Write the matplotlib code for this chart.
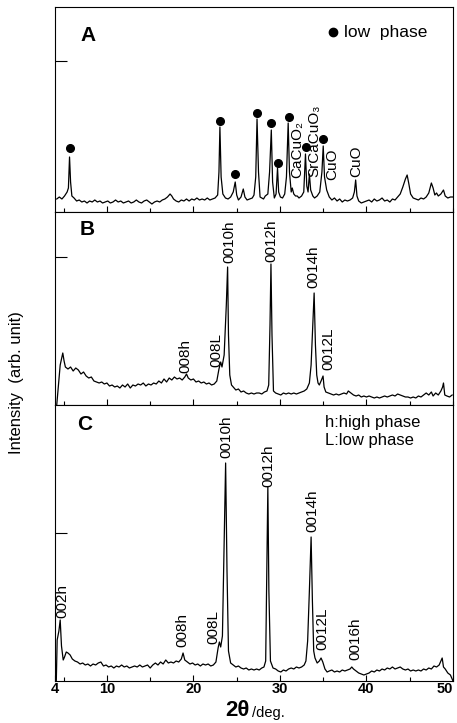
import numpy as np
import matplotlib
matplotlib.use("Agg")
import matplotlib.pyplot as plt  # noqa: E402
from matplotlib.ticker import MultipleLocator  # noqa: E402

plt.rcParams["font.family"] = ["Liberation Sans", "DejaVu Sans"]

# --- panel A: mixed (low phase + CaCuO2, SrCaCuO3, CuO) ---
tt_a = [4.2, 4.5, 4.8, 5.1, 5.4, 5.55, 5.68, 5.8, 5.95, 6.2, 6.5, 6.8, 7.1, 7.4, 7.7, 8.0,
        8.3, 8.6, 8.9, 9.2, 9.5, 9.8, 10.1, 10.4, 10.7, 11.0, 11.3, 11.6, 11.9, 12.2, 12.5,
        12.8, 13.1, 13.4, 13.7, 14.0, 14.3, 14.6, 14.9, 15.2, 15.5, 15.8, 16.1, 16.4, 16.7,
        17.0, 17.3, 17.5, 17.7, 18.0, 18.3, 18.6, 18.9, 19.2, 19.5, 19.8, 20.1, 20.4, 20.7,
        21.0, 21.3, 21.6, 21.9, 22.2, 22.5, 22.8, 22.95, 23.06, 23.2, 23.4, 23.7, 24.0, 24.3,
        24.6, 24.83, 25.0, 25.2, 25.5, 25.76, 25.95, 26.2, 26.5, 26.8, 27.0, 27.2, 27.35,
        27.52, 27.7, 27.9, 28.1, 28.3, 28.6, 28.8, 29.0, 29.15, 29.35, 29.55, 29.72, 29.85,
        30.05, 30.3, 30.55, 30.75, 30.95, 31.1, 31.3, 31.42, 31.6, 31.8, 32.0, 32.2, 32.5,
        32.75, 32.95, 33.1, 33.25, 33.4, 33.55, 33.8, 34.0, 34.3, 34.6, 34.85, 35.0, 35.15,
        35.4, 35.7, 36.0, 36.3, 36.6, 36.9, 37.2, 37.5, 37.8, 38.1, 38.4, 38.6, 38.75, 38.9,
        39.1, 39.4, 39.7, 40.0, 40.3, 40.6, 40.9, 41.2, 41.5, 41.8, 42.1, 42.4, 42.7, 43.0,
        43.3, 43.6, 43.9, 44.2, 44.5, 44.7, 44.9, 45.1, 45.4, 45.7, 46.0, 46.3, 46.6, 46.9,
        47.2, 47.5, 47.7, 47.9, 48.1, 48.3, 48.6, 48.9, 49.1, 49.4, 49.7, 50.0]
int_a = [13, 15, 13, 16, 20, 24, 55, 30, 16, 14, 11, 12, 10, 11, 9, 11,
         10, 12, 10, 11, 9, 10, 11, 9, 10, 12, 10, 11, 9, 10, 11,
         9, 10, 12, 10, 9, 11, 12, 10, 8, 10, 11, 10, 12, 13,
         15, 18, 16, 13, 11, 10, 12, 11, 13, 11, 13, 12, 14, 12,
         13, 12, 14, 12, 13, 14, 17, 40, 85, 35, 18, 14, 13, 15,
         20, 30, 17, 12, 15, 23, 15, 12, 13, 14, 17, 35, 93,
         40, 15, 14, 13, 16, 18, 40, 82, 30, 14, 18, 44, 20,
         15, 14, 18, 35, 89, 40, 20, 24, 18, 16, 16, 14, 16,
         20, 58, 26, 20, 38, 22, 16, 14, 16, 20, 40, 66, 35,
         22, 15, 12, 14, 11, 13, 10, 12, 11, 12, 14, 20, 32, 16,
         11, 9, 10, 11, 12, 10, 13, 11, 12, 14, 11, 12, 10, 13,
         12, 15, 18, 25, 33, 37, 28, 18, 14, 13, 12, 14, 13, 15,
         19, 29, 24, 17, 19, 16, 18, 22, 16, 14, 15, 15]
# low-phase markers (peak position, marker height)
dot_tt = [5.68, 23.02, 24.83, 27.3, 29.0, 29.75, 31.0, 33.0, 34.97]
dot_int = [64, 91, 38, 99, 89, 49, 95, 65, 73]
# phase labels in panel A: (2θ, bottom of text, text)
lab_a_tt = [32.0, 33.95, 36.05, 38.83]
lab_a_int = [34, 35, 32, 35]
lab_a_txt = ["CaCuO₂", "SrCaCuO₃", "CuO", "CuO"]

# --- panel B ---
tt_b = [4.2, 4.4, 4.6, 4.9, 5.05, 5.2, 5.5, 5.8, 6.1, 6.4, 6.7, 7.0, 7.3, 7.6, 7.9, 8.2,
        8.5, 8.8, 9.1, 9.4, 9.7, 10.0, 10.3, 10.6, 10.9, 11.2, 11.5, 11.8, 12.1, 12.4, 12.7,
        13.0, 13.3, 13.6, 13.9, 14.2, 14.5, 14.8, 15.1, 15.4, 15.7, 16.0, 16.3, 16.6, 16.9,
        17.2, 17.5, 17.8, 18.1, 18.4, 18.7, 19.0, 19.2, 19.4, 19.7, 20.0, 20.3, 20.6, 20.9,
        21.2, 21.5, 21.8, 22.1, 22.4, 22.7, 22.95, 23.15, 23.3, 23.55, 23.8, 23.95, 24.05,
        24.2, 24.4, 24.6, 24.9, 25.2, 25.5, 25.8, 26.1, 26.4, 26.7, 27.0, 27.3, 27.6, 27.9,
        28.2, 28.5, 28.7, 28.85, 28.96, 29.08, 29.25, 29.5, 29.8, 30.1, 30.4, 30.7, 31.0,
        31.3, 31.6, 31.9, 32.2, 32.5, 32.8, 33.1, 33.4, 33.6, 33.8, 33.95, 34.1, 34.25,
        34.4, 34.55, 34.75, 34.98, 35.1, 35.3, 35.6, 35.9, 36.2, 36.5, 36.8, 37.1, 37.4,
        37.7, 37.9, 38.2, 38.5, 38.8, 39.1, 39.4, 39.7, 40.0, 40.3, 40.6, 40.9, 41.2, 41.5,
        41.8, 42.1, 42.4, 42.7, 43.0, 43.3, 43.6, 43.9, 44.2, 44.5, 44.8, 45.1, 45.4, 45.7,
        46.0, 46.3, 46.6, 46.9, 47.2, 47.5, 47.7, 48.0, 48.3, 48.6, 48.8, 48.9, 49.05, 49.3,
        49.6, 49.9]
int_b = [0, 20, 40, 52, 44, 38, 36, 38, 34, 37, 35, 31, 33, 29, 27, 28,
         24, 23, 22, 23, 21, 22, 19, 20, 18, 19, 17, 20, 18, 21, 17,
         20, 19, 21, 20, 22, 19, 21, 20, 22, 21, 24, 22, 26, 23,
         27, 25, 28, 26, 27, 25, 28, 31, 27, 25, 26, 23, 24, 22,
         23, 21, 22, 20, 21, 24, 36, 43, 38, 50, 100, 138, 70,
         30, 20, 18, 15, 16, 13, 14, 12, 11, 12, 11, 12, 12, 11,
         13, 14, 20, 80, 141, 70, 14, 12, 11, 10, 12, 11, 12,
         11, 12, 11, 12, 13, 14, 16, 22, 40, 80, 112, 60, 30,
         22, 20, 24, 29, 18, 13, 12, 11, 10, 11, 10, 11, 12,
         11, 14, 12, 10, 9, 10, 8, 9, 8, 9, 8, 7, 8, 7,
         8, 9, 8, 9, 10, 9, 11, 10, 9, 8, 8, 7, 8, 7,
         9, 8, 10, 12, 10, 13, 9, 12, 10, 14, 18, 22, 10, 9,
         8, 10]
lab_b_tt = [19.07, 22.64, 24.14, 29.0, 33.85, 35.58]
lab_b_int = [32, 38, 142, 143, 117, 35]
lab_b_txt = ["008h", "008L", "0010h", "0012h", "0014h", "0012L"]

# --- panel C ---
tt_c = [4.15, 4.25, 4.45, 4.6, 4.75, 4.95, 5.1, 5.3, 5.5, 5.75, 6.0, 6.3, 6.6, 6.9, 7.2,
        7.5, 7.8, 8.1, 8.4, 8.7, 9.0, 9.3, 9.6, 9.9, 10.2, 10.5, 10.8, 11.1, 11.4, 11.7,
        12.0, 12.3, 12.6, 12.9, 13.2, 13.5, 13.8, 14.1, 14.4, 14.7, 15.0, 15.3, 15.6, 15.9,
        16.2, 16.5, 16.8, 17.1, 17.4, 17.7, 18.0, 18.3, 18.6, 18.8, 19.0, 19.3, 19.6, 19.9,
        20.2, 20.5, 20.8, 21.1, 21.4, 21.7, 22.0, 22.3, 22.6, 22.85, 23.0, 23.15, 23.35,
        23.55, 23.72, 23.88, 24.05, 24.3, 24.6, 24.9, 25.2, 25.5, 25.8, 26.1, 26.4, 26.7,
        27.0, 27.3, 27.6, 27.9, 28.15, 28.35, 28.5, 28.6, 28.72, 28.9, 29.2, 29.5, 29.8,
        30.1, 30.4, 30.7, 31.0, 31.3, 31.6, 31.9, 32.2, 32.5, 32.8, 33.0, 33.2, 33.4, 33.6,
        33.75, 33.9, 34.05, 34.3, 34.55, 34.75, 34.95, 35.2, 35.45, 35.7, 36.0, 36.3, 36.6,
        36.9, 37.2, 37.5, 37.8, 38.1, 38.3, 38.5, 38.8, 39.1, 39.4, 39.7, 40.0, 40.3, 40.6,
        40.9, 41.2, 41.5, 41.8, 42.1, 42.4, 42.7, 43.0, 43.3, 43.6, 43.9, 44.2, 44.5, 44.8,
        45.1, 45.4, 45.7, 46.0, 46.3, 46.6, 46.9, 47.2, 47.5, 47.8, 48.1, 48.4, 48.6, 48.75,
        48.9, 49.1, 49.4, 49.7, 49.9, 50.0]
int_c = [0, 41, 50, 61, 35, 21, 24, 29, 28, 26, 22, 20, 19, 17, 18,
         16, 17, 15, 17, 16, 18, 19, 15, 16, 14, 15, 13, 15, 14, 16,
         14, 15, 13, 14, 15, 14, 16, 14, 15, 16, 13, 16, 18, 16,
         19, 17, 21, 18, 19, 18, 20, 19, 22, 28, 21, 19, 17, 18,
         16, 17, 15, 17, 16, 17, 15, 16, 19, 33, 39, 34, 45,
         140, 218, 110, 30, 18, 16, 14, 15, 13, 12, 13, 11, 12,
         11, 12, 11, 13, 14, 20, 120, 194, 90, 20, 13, 12, 10,
         9, 11, 10, 12, 13, 12, 14, 13, 14, 16, 20, 40, 90, 144,
         80, 30, 23, 18, 20, 23, 19, 12, 9, 10, 11, 9, 10,
         9, 11, 10, 11, 12, 14, 12, 10, 8, 7, 6, 7, 8, 10,
         9, 11, 10, 12, 11, 13, 12, 14, 12, 13, 14, 12, 11, 12,
         10, 11, 10, 11, 10, 12, 11, 13, 12, 15, 14, 16, 20, 23,
         14, 12, 8, 6, 2, 0]
lab_c_tt = [4.85, 18.7, 22.3, 23.8, 28.65, 33.75, 34.9, 38.7]
lab_c_int = [63, 34, 37, 223, 194, 149, 31, 21]
lab_c_txt = ["002h", "008h", "008L", "0010h", "0012h", "0014h", "0012L", "0016h"]

fig = plt.figure(figsize=(4.57, 7.23), dpi=100)
L, W = 55 / 457, 398 / 457
ax_a = fig.add_axes([L, 1 - 212 / 723, W, 205 / 723])
ax_b = fig.add_axes([L, 1 - 405 / 723, W, 193 / 723])
ax_c = fig.add_axes([L, 1 - 681 / 723, W, 276 / 723])

panels = [(ax_a, tt_a, int_a, 205, 151), (ax_b, tt_b, int_b, 193, 148),
          (ax_c, tt_c, int_c, 276, 148)]
for ax, tt, it, ytop, ytick in panels:
    ax.plot(tt, it, color="k", lw=0.9)
    ax.set_xlim(4, 50)
    ax.set_ylim(0, ytop)
    ax.set_xticks([10, 20, 30, 40])
    ax.xaxis.set_minor_locator(MultipleLocator(5))
    ax.set_yticks([ytick])
    ax.tick_params(axis="x", which="major", direction="in", length=4.5, width=0.8)
    ax.tick_params(axis="x", which="minor", direction="in", length=3, width=0.8)
    ax.tick_params(axis="y", direction="in", length=8.5, width=0.8)
    ax.set_yticklabels([])
    for s in ax.spines.values():
        s.set_linewidth(0.8)

ax_a.set_xticklabels([])
ax_b.set_xticklabels([])
ax_c.set_xticks([4, 10, 20, 30, 40, 50])
ax_c.set_xticklabels(["4", "10", "20", "30", "40", "50"], fontsize=10.5, fontweight="bold")
ax_c.get_xticklabels()[-1].set_horizontalalignment("right")
ax_c.tick_params(axis="x", pad=1)

# panel A annotations
ax_a.plot(dot_tt, dot_int, "o", color="k", ms=5.5)
for x, y, s in zip(lab_a_tt, lab_a_int, lab_a_txt):
    ax_a.text(x, y, s, rotation=90, ha="center", va="bottom", fontsize=11)
ax_a.text(0.083, 0.86, "A", transform=ax_a.transAxes, fontsize=15, fontweight="bold",
          ha="center", va="center")
ax_a.plot([0.698], [0.878], "o", color="k", ms=6, transform=ax_a.transAxes)
ax_a.text(0.727, 0.875, "low  phase", transform=ax_a.transAxes, fontsize=12.5,
          ha="left", va="center")

for x, y, s in zip(lab_b_tt, lab_b_int, lab_b_txt):
    ax_b.text(x, y, s, rotation=90, ha="center", va="bottom", fontsize=11)
ax_b.text(0.08, 0.907, "B", transform=ax_b.transAxes, fontsize=15, fontweight="bold",
          ha="center", va="center")

for x, y, s in zip(lab_c_tt, lab_c_int, lab_c_txt):
    ax_c.text(x, y, s, rotation=90, ha="center", va="bottom", fontsize=11)
ax_c.text(0.075, 0.928, "C", transform=ax_c.transAxes, fontsize=15, fontweight="bold",
          ha="center", va="center")
ax_c.text(0.678, 0.935, "h:high phase", transform=ax_c.transAxes, fontsize=12,
          ha="left", va="center")
ax_c.text(0.678, 0.873, "L:low phase", transform=ax_c.transAxes, fontsize=12,
          ha="left", va="center")

fig.text(17 / 457, 1 - 383 / 723, "Intensity  (arb. unit)", rotation=90, fontsize=12,
         ha="center", va="center")
fig.text(250 / 457, 1 - 711 / 723, "2θ", fontsize=16, fontweight="bold", ha="right",
         va="center")
fig.text(252 / 457, 1 - 713 / 723, "/deg.", fontsize=10.5, ha="left", va="center")

fig.savefig("out.png", dpi=100)
